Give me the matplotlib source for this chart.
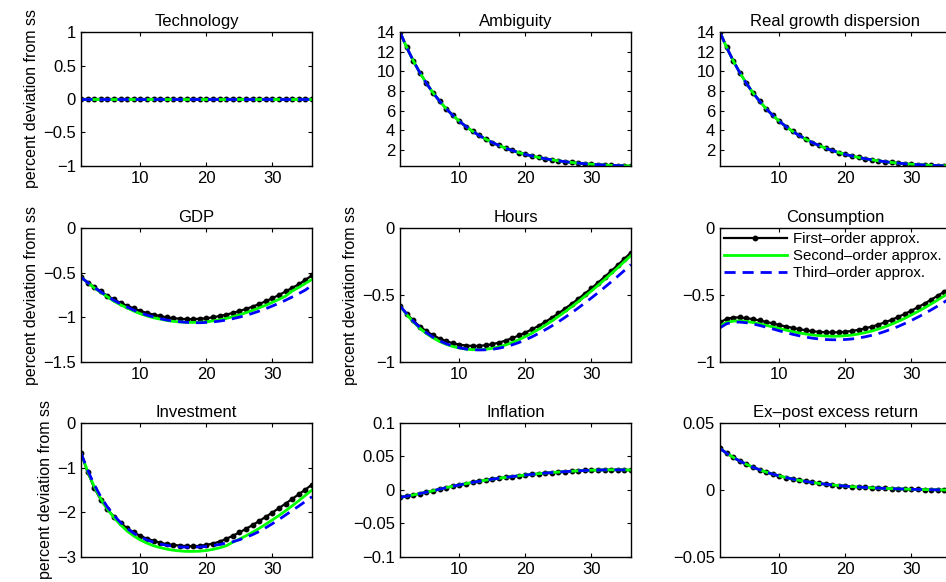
import matplotlib
matplotlib.use("Agg")
import matplotlib.pyplot as plt
from matplotlib.ticker import FuncFormatter

plt.rcParams['font.family'] = ['Liberation Sans', 'DejaVu Sans']
plt.rcParams['font.size'] = 12

# periods
t = list(range(1, 37))

# Technology (all orders identical, zero)
tech = [0.0, 0.0, 0.0, 0.0, 0.0, 0.0, 0.0, 0.0, 0.0, 0.0, 0.0, 0.0,
        0.0, 0.0, 0.0, 0.0, 0.0, 0.0, 0.0, 0.0, 0.0, 0.0, 0.0, 0.0,
        0.0, 0.0, 0.0, 0.0, 0.0, 0.0, 0.0, 0.0, 0.0, 0.0, 0.0, 0.0]

# Ambiguity (orders indistinguishable)
ambig = [14.00, 12.46, 11.09, 9.87, 8.78, 7.82, 6.96, 6.19, 5.51, 4.91, 4.37, 3.89,
         3.46, 3.08, 2.74, 2.44, 2.17, 1.93, 1.72, 1.53, 1.37, 1.22, 1.09, 0.98,
         0.88, 0.79, 0.71, 0.64, 0.58, 0.53, 0.49, 0.45, 0.42, 0.39, 0.37, 0.35]

# Real growth dispersion
disp = [14.00, 12.46, 11.09, 9.87, 8.78, 7.82, 6.96, 6.19, 5.51, 4.91, 4.37, 3.89,
        3.46, 3.08, 2.74, 2.44, 2.17, 1.93, 1.72, 1.53, 1.37, 1.22, 1.09, 0.98,
        0.88, 0.79, 0.71, 0.64, 0.58, 0.53, 0.49, 0.45, 0.42, 0.39, 0.37, 0.35]

# GDP
gdp_1 = [-0.55, -0.61, -0.66, -0.71, -0.76, -0.80, -0.84, -0.87, -0.90, -0.93, -0.95, -0.97,
         -0.985, -1.00, -1.01, -1.015, -1.02, -1.02, -1.015, -1.01, -1.00, -0.985, -0.97, -0.95,
         -0.93, -0.905, -0.88, -0.85, -0.82, -0.785, -0.75, -0.71, -0.67, -0.63, -0.58, -0.53]
gdp_2 = [-0.55, -0.61, -0.67, -0.72, -0.77, -0.82, -0.86, -0.895, -0.93, -0.96, -0.985, -1.005,
         -1.02, -1.035, -1.045, -1.052, -1.056, -1.057, -1.055, -1.05, -1.04, -1.028, -1.012, -0.993,
         -0.972, -0.948, -0.922, -0.894, -0.864, -0.832, -0.798, -0.762, -0.705, -0.665, -0.62, -0.575]
gdp_3 = [-0.55, -0.61, -0.665, -0.715, -0.765, -0.81, -0.85, -0.885, -0.92, -0.95, -0.975, -0.995,
         -1.015, -1.03, -1.042, -1.05, -1.056, -1.06, -1.06, -1.057, -1.051, -1.042, -1.03, -1.015,
         -0.998, -0.978, -0.955, -0.93, -0.903, -0.873, -0.842, -0.808, -0.772, -0.734, -0.694, -0.64]

# Hours
hours_1 = [-0.58, -0.64, -0.69, -0.735, -0.77, -0.80, -0.825, -0.845, -0.86, -0.87, -0.877, -0.88,
           -0.879, -0.875, -0.867, -0.855, -0.84, -0.822, -0.802, -0.78, -0.756, -0.73, -0.701, -0.67,
           -0.637, -0.602, -0.566, -0.529, -0.49, -0.45, -0.408, -0.365, -0.321, -0.276, -0.23, -0.183]
hours_2 = [-0.58, -0.645, -0.70, -0.748, -0.788, -0.82, -0.847, -0.868, -0.884, -0.896, -0.904, -0.908,
           -0.908, -0.905, -0.898, -0.887, -0.873, -0.855, -0.834, -0.81, -0.784, -0.756, -0.726, -0.694,
           -0.66, -0.625, -0.588, -0.55, -0.51, -0.47, -0.428, -0.385, -0.341, -0.296, -0.25, -0.205]
hours_3 = [-0.58, -0.64, -0.695, -0.742, -0.782, -0.815, -0.842, -0.864, -0.881, -0.894, -0.903, -0.908,
           -0.91, -0.909, -0.905, -0.897, -0.886, -0.872, -0.855, -0.835, -0.812, -0.787, -0.76, -0.731,
           -0.70, -0.667, -0.633, -0.597, -0.56, -0.522, -0.483, -0.443, -0.402, -0.36, -0.317, -0.273]

# Consumption
cons_1 = [-0.705, -0.678, -0.668, -0.667, -0.672, -0.68, -0.69, -0.70, -0.712, -0.724, -0.735, -0.745,
          -0.755, -0.763, -0.77, -0.775, -0.778, -0.779, -0.778, -0.774, -0.768, -0.76, -0.749, -0.736,
          -0.721, -0.704, -0.685, -0.664, -0.641, -0.617, -0.591, -0.564, -0.535, -0.505, -0.475, -0.445]
cons_2 = [-0.73, -0.705, -0.695, -0.693, -0.697, -0.705, -0.715, -0.726, -0.738, -0.75, -0.762, -0.773,
          -0.783, -0.791, -0.798, -0.803, -0.806, -0.808, -0.807, -0.804, -0.799, -0.791, -0.781, -0.769,
          -0.754, -0.737, -0.718, -0.697, -0.674, -0.649, -0.623, -0.596, -0.567, -0.537, -0.506, -0.475]
cons_3 = [-0.745, -0.715, -0.703, -0.702, -0.707, -0.716, -0.727, -0.74, -0.753, -0.767, -0.78, -0.793,
          -0.804, -0.814, -0.822, -0.828, -0.832, -0.834, -0.834, -0.832, -0.828, -0.821, -0.812, -0.801,
          -0.788, -0.772, -0.754, -0.735, -0.713, -0.69, -0.665, -0.639, -0.611, -0.582, -0.552, -0.52]

# Investment
inv_1 = [-0.67, -1.10, -1.45, -1.72, -1.93, -2.10, -2.24, -2.36, -2.45, -2.53, -2.59, -2.64,
         -2.68, -2.71, -2.73, -2.745, -2.755, -2.76, -2.75, -2.73, -2.70, -2.655, -2.595, -2.525,
         -2.45, -2.37, -2.285, -2.195, -2.10, -2.005, -1.905, -1.805, -1.70, -1.595, -1.49, -1.38]
inv_2 = [-0.67, -1.08, -1.42, -1.70, -1.93, -2.12, -2.28, -2.42, -2.53, -2.62, -2.69, -2.75,
         -2.79, -2.825, -2.85, -2.865, -2.875, -2.875, -2.87, -2.855, -2.83, -2.795, -2.75, -2.67,
         -2.60, -2.525, -2.445, -2.36, -2.265, -2.17, -2.07, -1.965, -1.855, -1.74, -1.62, -1.50]
inv_3 = [-0.67, -1.05, -1.38, -1.65, -1.88, -2.07, -2.23, -2.36, -2.47, -2.55, -2.62, -2.67,
         -2.71, -2.74, -2.76, -2.775, -2.78, -2.78, -2.775, -2.765, -2.745, -2.72, -2.69, -2.66,
         -2.615, -2.56, -2.50, -2.43, -2.345, -2.255, -2.16, -2.06, -1.96, -1.86, -1.755, -1.65]

# Inflation (orders indistinguishable)
infl = [-0.0110, -0.0093, -0.0074, -0.0054, -0.0033, -0.0012, 0.0012, 0.0035, 0.0056, 0.0076, 0.0095, 0.0113,
        0.0130, 0.0146, 0.0161, 0.0175, 0.0188, 0.0200, 0.0212, 0.0223, 0.0233, 0.0243, 0.0252, 0.0260,
        0.0267, 0.0274, 0.0280, 0.0286, 0.0291, 0.0295, 0.0298, 0.0300, 0.0301, 0.0301, 0.0300, 0.0298]

# Ex-post excess return (orders indistinguishable)
exret = [0.0310, 0.0275, 0.0244, 0.0216, 0.0192, 0.0170, 0.0151, 0.0134, 0.0118, 0.0105, 0.0093, 0.0082,
         0.0072, 0.0064, 0.0056, 0.0049, 0.0043, 0.0038, 0.0033, 0.0029, 0.0025, 0.0022, 0.0019, 0.0016,
         0.0014, 0.0012, 0.0010, 0.0008, 0.0007, 0.0005, 0.0004, 0.0003, 0.0002, 0.0001, 0.0000, 0.0000]

titles = ['Technology', 'Ambiguity', 'Real growth dispersion',
          'GDP', 'Hours', 'Consumption',
          'Investment', 'Inflation', 'Ex\u2013post excess return']
series = [(tech, tech, tech), (ambig, ambig, ambig), (disp, disp, disp),
          (gdp_1, gdp_2, gdp_3), (hours_1, hours_2, hours_3), (cons_1, cons_2, cons_3),
          (inv_1, inv_2, inv_3), (infl, infl, infl), (exret, exret, exret)]
yticks = [[-1, -0.5, 0, 0.5, 1], [2, 4, 6, 8, 10, 12, 14], [2, 4, 6, 8, 10, 12, 14],
          [-1.5, -1, -0.5, 0], [-1, -0.5, 0], [-1, -0.5, 0],
          [-3, -2, -1, 0], [-0.1, -0.05, 0, 0.05, 0.1], [-0.05, 0, 0.05]]
ylims = [(-1, 1), None, None, (-1.5, 0), (-1, 0), (-1, 0), (-3, 0), (-0.1, 0.1), (-0.05, 0.05)]
with_ylabel = [True, False, False, True, True, False, True, False, False]
labels = ['First\u2013order approx.', 'Second\u2013order approx.', 'Third\u2013order approx.']

fig = plt.figure(figsize=(9.46, 5.82), dpi=100)

lefts = [0.0856, 0.4228, 0.761]
bottoms = [0.7148, 0.378, 0.043]
w, h = 0.2442, 0.2302

fmt = FuncFormatter(lambda v, p: ('%g' % v).replace('-', '\u2212'))

for i in range(9):
    r, c = divmod(i, 3)
    ax = fig.add_axes([lefts[c], bottoms[r], w, h])
    s1, s2, s3 = series[i]
    ax.plot(t, s1, color='black', lw=1.6, marker='o', ms=3.2, label=labels[0])
    ax.plot(t, s2, color=(0, 1, 0), lw=2.0, label=labels[1])
    ax.plot(t, s3, color=(0, 0, 1), lw=2.0, ls='--', dashes=(4, 2.5), label=labels[2])
    ax.set_xlim(1, 36)
    if ylims[i] is None:
        ax.set_ylim(min(s1), max(s1))
    else:
        ax.set_ylim(*ylims[i])
    ax.set_xticks([10, 20, 30])
    ax.set_yticks(yticks[i])
    ax.yaxis.set_major_formatter(fmt)
    ax.tick_params(direction='in', top=True, right=True, length=3, width=0.8,
                   labelsize=12, pad=3.5)
    for sp in ax.spines.values():
        sp.set_linewidth(1.0)
    ax.set_title(titles[i], fontsize=12, pad=4)
    if with_ylabel[i]:
        ax.set_ylabel('percent deviation from ss', fontsize=11.5, labelpad=3)
    if i == 5:
        ax.legend(loc='upper left', frameon=False, borderaxespad=0.0, borderpad=0.25,
                  handlelength=4.2, fontsize=10.8, labelspacing=0.2,
                  handletextpad=0.4)

fig.savefig('out.png', dpi=100)
